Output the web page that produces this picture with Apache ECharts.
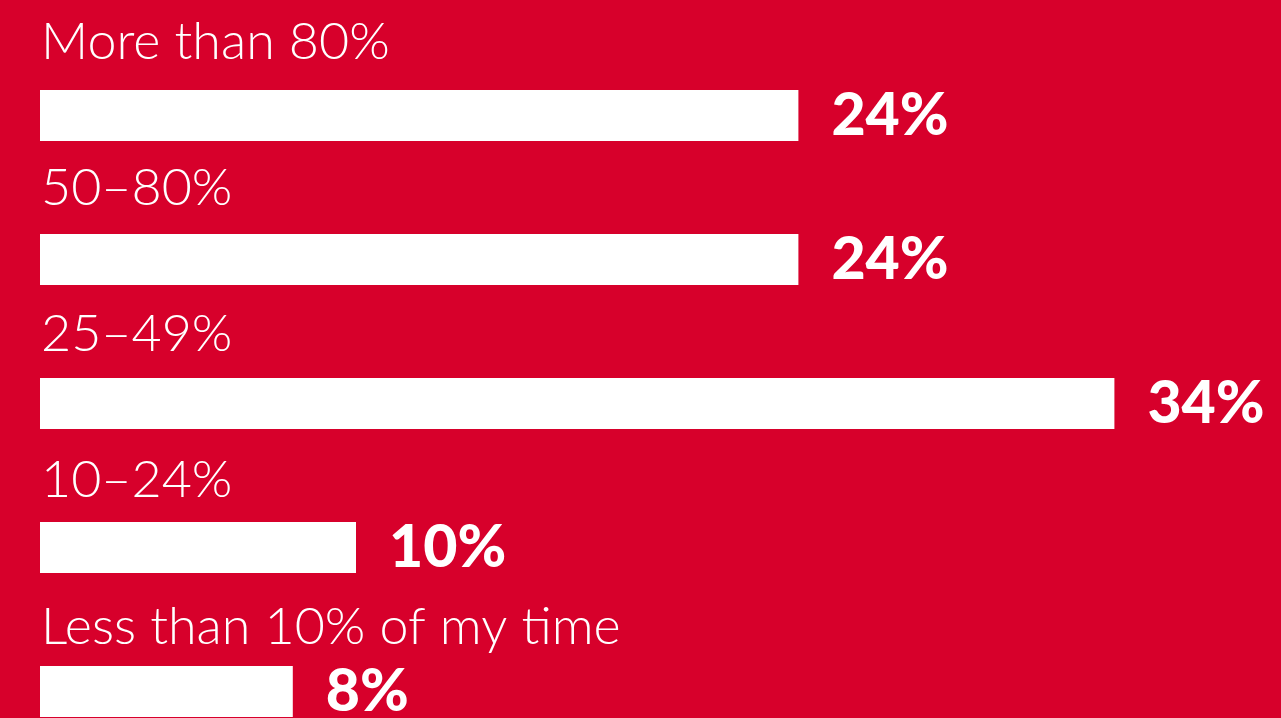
<!DOCTYPE html>
<html>
<head>
<meta charset="utf-8">
<script src="https://cdn.jsdelivr.net/npm/echarts@6/dist/echarts.min.js"></script>
<style>
  html, body { margin: 0; padding: 0; background: #D7002B; }
  #chart { width: 1281px; height: 718px; }
</style>
</head>
<body>
<div id="chart"></div>
<script>
// Share of time, by answer band
const categories = ['More than 80%', '50–80%', '25–49%', '10–24%', 'Less than 10% of my time'];
const shares = [24, 24, 34, 10, 8];

const chart = echarts.init(document.getElementById('chart'));

// band names sit above their bars, spreading out slightly towards the bottom
const nameItems = shares.map((v, i) => ({
  value: v,
  label: { offset: [0, -73.5 + 2.2 * i] }
}));

chart.setOption({
  backgroundColor: '#D7002B',
  animation: false,
  grid: {
    left: 40, top: 43.5, width: 1264, height: 720,
    containLabel: false,
    outerBoundsMode: 'none'
  },
  xAxis: {
    type: 'value', min: 0, max: 40,
    show: false
  },
  yAxis: {
    type: 'category', data: categories, inverse: true,
    show: false
  },
  series: [
    {
      // white bars with bold value labels on the right
      type: 'bar',
      data: shares,
      barWidth: 51,
      barGap: '-100%',
      itemStyle: { color: '#FFFFFF' },
      label: {
        show: true,
        position: 'right',
        distance: 33,
        formatter: '{c}%',
        color: '#FFFFFF',
        fontFamily: 'Lato',
        fontWeight: 900,
        fontSize: 59
      }
    },
    {
      // invisible twin bars carrying the band names above each bar
      type: 'bar',
      data: nameItems,
      barWidth: 51,
      barGap: '-100%',
      itemStyle: { color: 'rgba(0,0,0,0)' },
      silent: true,
      label: {
        show: true,
        position: 'insideLeft',
        distance: 1,
        formatter: p => categories[p.dataIndex],
        color: '#FFFFFF',
        fontFamily: 'Lato',
        fontWeight: 300,
        fontSize: 52
      }
    }
  ]
});
</script>
</body>
</html>
